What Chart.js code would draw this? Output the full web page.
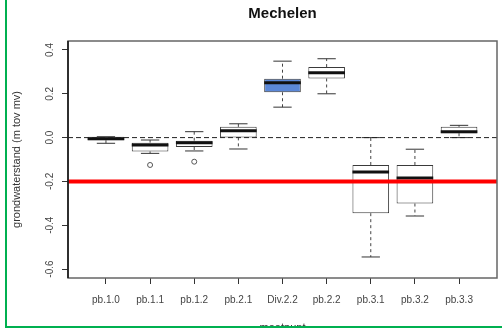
<!DOCTYPE html>
<html>
<head>
<meta charset="utf-8">
<script src="https://cdn.jsdelivr.net/npm/chart.js@4"></script>
<style>
  body { margin: 0; background: #fff; }
</style>
</head>
<body>
<canvas id="myChart" width="502" height="328"></canvas>
<script>
const categories = ['pb.1.0', 'pb.1.1', 'pb.1.2', 'pb.2.1', 'Div.2.2', 'pb.2.2', 'pb.3.1', 'pb.3.2', 'pb.3.3']
const whiskerLow = [-0.026, -0.072, -0.061, -0.052, 0.139, 0.200, -0.545, -0.358, 0.000]
const q1 = [-0.012, -0.063, -0.043, 0.001, 0.207, 0.270, -0.345, -0.301, 0.020]
const median = [-0.005, -0.034, -0.024, 0.031, 0.250, 0.296, -0.157, -0.184, 0.027]
const q3 = [0.004, -0.023, -0.014, 0.049, 0.269, 0.322, -0.125, -0.125, 0.049]
const whiskerHigh = [0.004, -0.011, 0.027, 0.063, 0.349, 0.360, 0.000, -0.053, 0.056]
const outlierCategory = ['pb.1.1', 'pb.1.2']
const outlierValue = [-0.125, -0.110]
const yTicks = [-0.6, -0.4, -0.2, 0.0, 0.2, 0.4]
const referenceLevel = -0.2
const highlighted = 'Div.2.2'

const font = "'Liberation Sans', Arial, sans-serif"
const canvas = document.getElementById('myChart')

// whiskers, staples, medians and the two horizontal lines, drawn through the scales
const boxExtras = {
    id: 'boxExtras',
    afterDatasetsDraw(chart) {
        const { ctx, scales: { x, y }, chartArea } = chart
        const boxW = chart.getDatasetMeta(0).data[0].width
        ctx.save()
        categories.forEach((c, i) => {
            const px = x.getPixelForValue(i + 1)
            // dashed whiskers
            ctx.strokeStyle = '#444'
            ctx.lineWidth = 1
            ctx.setLineDash([3, 3])
            ctx.beginPath()
            ctx.moveTo(px, y.getPixelForValue(q3[i]))
            ctx.lineTo(px, y.getPixelForValue(whiskerHigh[i]))
            ctx.moveTo(px, y.getPixelForValue(q1[i]))
            ctx.lineTo(px, y.getPixelForValue(whiskerLow[i]))
            ctx.stroke()
            // staples
            ctx.setLineDash([])
            ctx.strokeStyle = '#333'
            ctx.beginPath()
            ctx.moveTo(px - boxW / 4, y.getPixelForValue(whiskerHigh[i]))
            ctx.lineTo(px + boxW / 4, y.getPixelForValue(whiskerHigh[i]))
            ctx.moveTo(px - boxW / 4, y.getPixelForValue(whiskerLow[i]))
            ctx.lineTo(px + boxW / 4, y.getPixelForValue(whiskerLow[i]))
            ctx.stroke()
            // median
            ctx.strokeStyle = '#111'
            ctx.lineWidth = 3
            ctx.beginPath()
            ctx.moveTo(px - boxW / 2, y.getPixelForValue(median[i]))
            ctx.lineTo(px + boxW / 2, y.getPixelForValue(median[i]))
            ctx.stroke()
        })
        // zero line
        ctx.strokeStyle = '#222'
        ctx.lineWidth = 1
        ctx.setLineDash([5, 3])
        ctx.beginPath()
        ctx.moveTo(chartArea.left, y.getPixelForValue(0))
        ctx.lineTo(chartArea.right, y.getPixelForValue(0))
        ctx.stroke()
        // red level
        ctx.setLineDash([])
        ctx.strokeStyle = '#ff0000'
        ctx.lineWidth = 4
        ctx.beginPath()
        ctx.moveTo(chartArea.left, y.getPixelForValue(referenceLevel))
        ctx.lineTo(chartArea.right, y.getPixelForValue(referenceLevel))
        ctx.stroke()
        ctx.restore()
    },
    afterDraw(chart) {
        const { ctx, chartArea } = chart
        ctx.save()
        // plot frame
        ctx.strokeStyle = '#666'
        ctx.lineWidth = 1.5
        ctx.strokeRect(chartArea.left, chartArea.top, chartArea.right - chartArea.left, chartArea.bottom - chartArea.top)
        ctx.strokeStyle = '#111'
        ctx.beginPath()
        ctx.moveTo(chartArea.left, chartArea.top)
        ctx.lineTo(chartArea.left, chartArea.bottom)
        ctx.stroke()
        // screenshot border
        ctx.fillStyle = '#00b050'
        ctx.fillRect(5, 0, 2, 328)
        ctx.fillRect(5, 326, chart.width - 5, 2)
        ctx.restore()
    }
}

const config = {
    data: {
        datasets: [{
            type: 'bar',
            data: categories.map((c, i) => ({ x: i + 1, y: [q1[i], q3[i]] })),
            backgroundColor: categories.map(c => c === highlighted ? '#5b88d8' : '#ffffff'),
            borderColor: '#3a3a3a',
            borderWidth: 1,
            borderSkipped: false,
            categoryPercentage: 1,
            barPercentage: 0.83,
            order: 2
        }, {
            type: 'scatter',
            data: outlierCategory.map((c, i) => ({ x: categories.indexOf(c) + 1, y: outlierValue[i] })),
            pointStyle: 'circle',
            pointRadius: 2.5,
            borderColor: '#555',
            backgroundColor: 'rgba(0,0,0,0)',
            borderWidth: 1,
            order: 1
        }]
    },
    options: {
        responsive: false,
        animation: false,
        devicePixelRatio: 1,
        layout: { padding: { left: 0, right: 2, top: 0, bottom: 0 } },
        plugins: {
            legend: { display: false },
            tooltip: { enabled: false },
            title: {
                display: true,
                text: 'Mechelen',
                fullSize: false,
                color: '#111',
                font: { family: font, size: 15, weight: 'bold' },
                padding: { top: 4.5, bottom: 18.5 }
            }
        },
        scales: {
            x: {
                type: 'linear',
                min: 0.14,
                max: 9.86,
                offset: false,
                afterBuildTicks: s => { s.ticks = categories.map((c, i) => ({ value: i + 1 })) },
                afterFit: s => { s.height = 50 },
                ticks: {
                    callback: v => categories[v - 1],
                    color: '#444',
                    font: { family: font, size: 10 },
                    padding: 10,
                    maxRotation: 0,
                    autoSkip: false
                },
                grid: { display: true, drawOnChartArea: false, drawTicks: true, tickLength: 6, color: '#333', offset: false },
                border: { display: false },
                title: {
                    display: true,
                    text: 'meetpunt',
                    color: '#333',
                    font: { family: font, size: 11 },
                    padding: { top: 0, bottom: -7 }
                }
            },
            y: {
                type: 'linear',
                min: -0.641,
                max: 0.441,
                afterBuildTicks: s => { s.ticks = yTicks.map(v => ({ value: v })) },
                afterFit: s => { s.width = 68 },
                ticks: {
                    callback: v => v.toFixed(1),
                    color: '#444',
                    font: { family: font, size: 10 },
                    minRotation: 90,
                    maxRotation: 90,
                    crossAlign: 'center',
                    padding: 3
                },
                grid: { display: true, drawOnChartArea: false, drawTicks: true, tickLength: 6, color: '#333' },
                border: { display: false },
                title: {
                    display: true,
                    text: 'grondwaterstand (m tov mv)',
                    color: '#333',
                    font: { family: font, size: 11 },
                    padding: { top: 10, bottom: 0 }
                }
            }
        }
    },
    plugins: [boxExtras]
}

const myChart = new Chart(canvas, config)
</script>
</body>
</html>
